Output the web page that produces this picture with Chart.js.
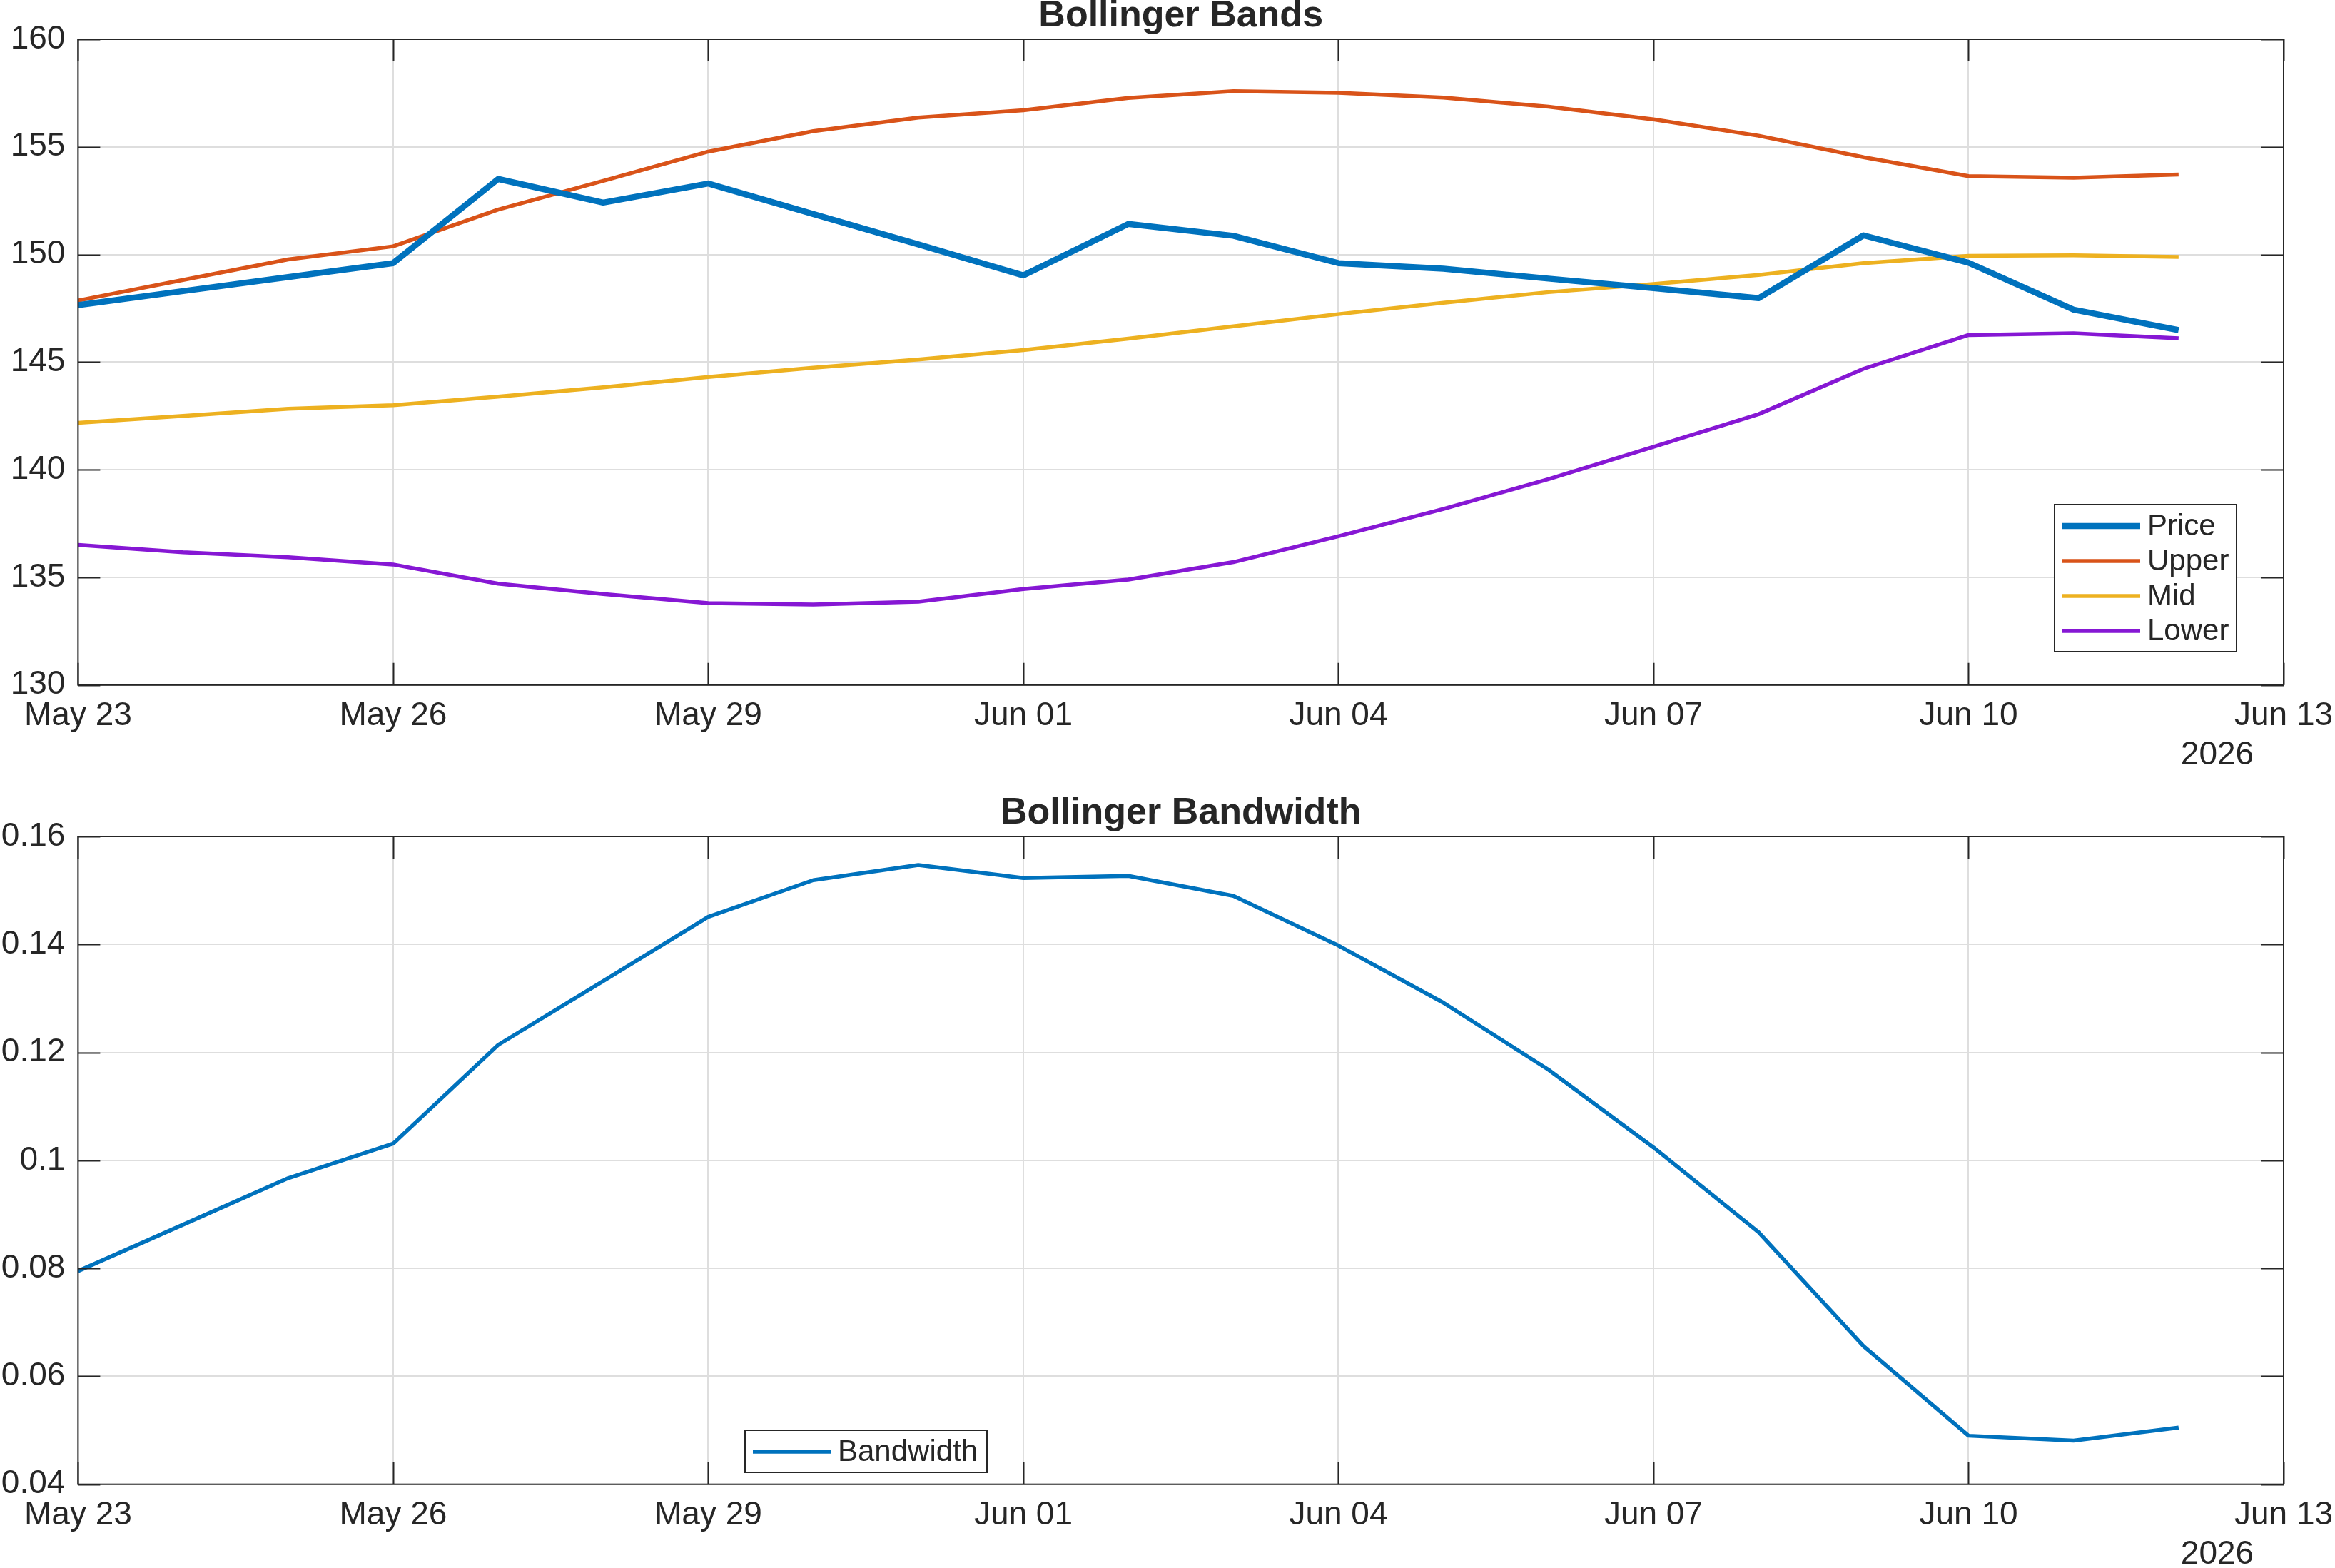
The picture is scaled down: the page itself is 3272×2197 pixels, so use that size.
<!DOCTYPE html>
<html>
<head>
<meta charset="utf-8">
<title>Bollinger Bands</title>
<script src="https://cdn.jsdelivr.net/npm/chart.js@4.4.1/dist/chart.umd.min.js"></script>
<style>
  html, body { margin: 0; padding: 0; background: #fff; }
  canvas { position: absolute; left: 0; }
  #bands { top: 0; }
  #bandwidth { top: 1117px; }
</style>
</head>
<body>
<canvas id="bands" width="3272" height="1117"></canvas>
<canvas id="bandwidth" width="3272" height="1080"></canvas>
<script>
// values
const dates = ['2026-05-23', '2026-05-24', '2026-05-25', '2026-05-26', '2026-05-27', '2026-05-28', '2026-05-29',
  '2026-05-30', '2026-05-31', '2026-06-01', '2026-06-02', '2026-06-03', '2026-06-04', '2026-06-05',
  '2026-06-06', '2026-06-07', '2026-06-08', '2026-06-09', '2026-06-10', '2026-06-11', '2026-06-12'];
const price = [147.65, 148.30, 148.95, 149.60, 153.51, 152.41, 153.30, 151.88, 150.47, 149.03, 151.42,
  150.87, 149.60, 149.34, 148.88, 148.44, 147.97, 150.89, 149.62, 147.44, 146.49];
const upper = [147.86, 148.82, 149.77, 150.38, 152.09, 153.42, 154.78, 155.73, 156.36, 156.70, 157.27,
  157.59, 157.51, 157.29, 156.87, 156.28, 155.52, 154.52, 153.64, 153.57, 153.72];
const mid = [142.18, 142.50, 142.83, 143.00, 143.40, 143.83, 144.31, 144.74, 145.12, 145.56, 146.09,
  146.66, 147.23, 147.76, 148.25, 148.63, 149.05, 149.60, 149.94, 149.96, 149.89];
const lower = [136.51, 136.17, 135.94, 135.60, 134.71, 134.23, 133.81, 133.74, 133.87, 134.46, 134.90,
  135.71, 136.91, 138.18, 139.56, 141.06, 142.58, 144.69, 146.26, 146.34, 146.11];
const bandwidth = [0.0795, 0.0881, 0.0967, 0.1031, 0.1214, 0.1332, 0.1451, 0.1519, 0.1547, 0.1523, 0.1527,
  0.1490, 0.1398, 0.1292, 0.1168, 0.1024, 0.0867, 0.0656, 0.0490, 0.0481, 0.0505];

const yearLabel = '2026';
const months = ['Jan', 'Feb', 'Mar', 'Apr', 'May', 'Jun', 'Jul', 'Aug', 'Sep', 'Oct', 'Nov', 'Dec'];
const DAY = 86400000;
const start = Date.parse(dates[0] + 'T00:00:00Z');
const days = dates.map(d => (Date.parse(d + 'T00:00:00Z') - start) / DAY);

function dayLabel(v) {
  const d = new Date(start + v * DAY);
  return months[d.getUTCMonth()] + ' ' + String(d.getUTCDate()).padStart(2, '0');
}
function pts(values) {
  return values.map((v, i) => ({ x: days[i], y: v }));
}

const INK = '#262626';
const FONT = '"Liberation Sans", Arial, Helvetica, sans-serif';
Chart.defaults.font.family = FONT;
Chart.defaults.color = INK;

// title over the plot box, box, inside tick marks and the year under the date axis (matlab look)
const framePlugin = {
  id: 'frame',
  afterDatasetsDraw(chart, args, opts) {
    const { ctx, chartArea: a, scales } = chart;
    const len = 31;
    ctx.save();
    ctx.strokeStyle = INK;
    ctx.lineWidth = 2;
    ctx.beginPath();
    scales.x.ticks.forEach(t => {
      const px = Math.round(scales.x.getPixelForValue(t.value)) + 0.5;
      ctx.moveTo(px, a.bottom); ctx.lineTo(px, a.bottom - len);
      ctx.moveTo(px, a.top); ctx.lineTo(px, a.top + len);
    });
    scales.y.ticks.forEach(t => {
      const py = Math.round(scales.y.getPixelForValue(t.value)) + 0.5;
      ctx.moveTo(a.left, py); ctx.lineTo(a.left + len, py);
      ctx.moveTo(a.right, py); ctx.lineTo(a.right - len, py);
    });
    ctx.stroke();
    ctx.strokeRect(a.left, a.top, a.right - a.left, a.bottom - a.top);

    ctx.fillStyle = INK;
    ctx.textAlign = 'center';
    ctx.textBaseline = 'middle';
    ctx.font = 'bold 52px ' + FONT;
    ctx.fillText(opts.title, (a.left + a.right) / 2, a.top - 32);
    ctx.font = '46px ' + FONT;
    ctx.fillText(yearLabel, a.right - 93, a.bottom + 99);
    ctx.restore();
  }
};

const boxLegend = {
  id: 'boxLegend',
  afterDraw(chart, args, opts) {
    const ctx = chart.ctx;
    ctx.save();
    ctx.fillStyle = '#fff';
    ctx.fillRect(opts.x, opts.y, opts.w, opts.h);
    ctx.strokeStyle = INK;
    ctx.lineWidth = 2;
    ctx.strokeRect(opts.x, opts.y, opts.w, opts.h);
    ctx.font = '42px ' + FONT;
    ctx.textAlign = 'left';
    ctx.textBaseline = 'middle';
    chart.data.datasets.forEach((ds, i) => {
      const y = opts.firstRow + i * opts.rowH;
      ctx.strokeStyle = ds.borderColor;
      ctx.lineWidth = ds.borderWidth;
      ctx.beginPath();
      ctx.moveTo(opts.x + 11, y);
      ctx.lineTo(opts.x + 120, y);
      ctx.stroke();
      ctx.fillStyle = INK;
      ctx.fillText(ds.label, opts.x + 130, y + 1);
    });
    ctx.restore();
  }
};

function line(label, values, color, width) {
  return {
    label: label,
    data: pts(values),
    borderColor: color,
    backgroundColor: color,
    borderWidth: width,
    pointRadius: 0,
    tension: 0,
    borderJoinStyle: 'round',
    fill: false
  };
}

function makeChart(id, title, datasets, yOpts, axisHeight, legend) {
  return new Chart(document.getElementById(id), {
    type: 'line',
    data: { datasets: datasets },
    options: {
      responsive: false,
      animation: false,
      devicePixelRatio: 1,
      layout: { padding: { left: 0, right: 72, top: 55, bottom: 0 } },
      plugins: {
        legend: { display: false },
        tooltip: { enabled: false },
        title: { display: false },
        frame: { title: title },
        boxLegend: legend
      },
      scales: {
        x: {
          type: 'linear',
          min: 0,
          max: 21,
          afterFit(scale) {
            scale.height = axisHeight;
            scale.paddingLeft = 0;
            scale.paddingRight = 0;
          },
          grid: { color: '#dedede', lineWidth: 2, drawTicks: false },
          border: { display: false },
          ticks: {
            stepSize: 3,
            autoSkip: false,
            maxRotation: 0,
            padding: 16,
            font: { size: 46 },
            color: INK,
            callback: v => dayLabel(v)
          }
        },
        y: {
          min: yOpts.min,
          max: yOpts.max,
          afterFit(scale) {
            scale.width = 109.4;
            scale.paddingTop = 0;
            scale.paddingBottom = 0;
          },
          grid: { color: '#dedede', lineWidth: 2, drawTicks: false },
          border: { display: false },
          ticks: {
            stepSize: yOpts.step,
            padding: 18,
            font: { size: 46 },
            color: INK,
            callback: v => String(parseFloat(v.toFixed(4)))
          }
        }
      }
    },
    plugins: [framePlugin, boxLegend]
  });
}

makeChart('bands', 'Bollinger Bands', [
  line('Price', price, '#0072BD', 8.5),
  line('Upper', upper, '#D95319', 5.5),
  line('Mid', mid, '#EDB120', 5.5),
  line('Lower', lower, '#8617D4', 5.5)
], { min: 130, max: 160, step: 5 }, 157.2,
  { x: 2879, y: 707, w: 255, h: 206, firstRow: 737, rowH: 49 });

makeChart('bandwidth', 'Bollinger Bandwidth', [
  line('Bandwidth', bandwidth, '#0072BD', 5.5)
], { min: 0.04, max: 0.16, step: 0.02 }, 117.3,
  { x: 1044, y: 887, w: 339, h: 59, firstRow: 917, rowH: 49 });
</script>
</body>
</html>
